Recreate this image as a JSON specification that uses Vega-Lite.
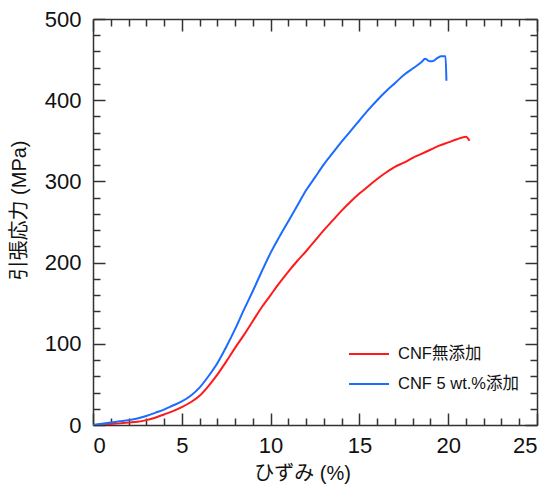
{
  "$schema": "https://vega.github.io/schema/vega-lite/v6.json",
  "width": 444, "height": 406,
  "autosize": "none",
  "padding": {"left": 93, "top": 19, "right": 22, "bottom": 67},
  "background": "white",
  "config": {
    "view": {"stroke": null},
    "axis": {
      "grid": false, "domainColor": "#333", "domainWidth": 1.5,
      "tickColor": "#333", "tickWidth": 1.5,
      "labelFont": "Liberation Sans", "labelFontSize": 22, "labelColor": "#111",
      "titleFont": "'Liberation Sans', 'Noto Sans CJK JP'", "titleFontSize": 20,
      "titleFontWeight": "normal", "titleColor": "#111"
    }
  },
  "data": {"values": [
    {"strain": 0, "stress": 0, "sample": "CNF無添加"},
    {"strain": 0.5, "stress": 0.5, "sample": "CNF無添加"},
    {"strain": 1, "stress": 1.2, "sample": "CNF無添加"},
    {"strain": 1.5, "stress": 2, "sample": "CNF無添加"},
    {"strain": 2, "stress": 3, "sample": "CNF無添加"},
    {"strain": 2.5, "stress": 4, "sample": "CNF無添加"},
    {"strain": 3, "stress": 6, "sample": "CNF無添加"},
    {"strain": 3.5, "stress": 9, "sample": "CNF無添加"},
    {"strain": 4, "stress": 13, "sample": "CNF無添加"},
    {"strain": 4.5, "stress": 17, "sample": "CNF無添加"},
    {"strain": 5, "stress": 22, "sample": "CNF無添加"},
    {"strain": 5.5, "stress": 28, "sample": "CNF無添加"},
    {"strain": 6, "stress": 36, "sample": "CNF無添加"},
    {"strain": 6.5, "stress": 48, "sample": "CNF無添加"},
    {"strain": 7, "stress": 62, "sample": "CNF無添加"},
    {"strain": 7.5, "stress": 78, "sample": "CNF無添加"},
    {"strain": 8, "stress": 95, "sample": "CNF無添加"},
    {"strain": 8.5, "stress": 111, "sample": "CNF無添加"},
    {"strain": 9, "stress": 128, "sample": "CNF無添加"},
    {"strain": 9.5, "stress": 145, "sample": "CNF無添加"},
    {"strain": 10, "stress": 160, "sample": "CNF無添加"},
    {"strain": 10.5, "stress": 175, "sample": "CNF無添加"},
    {"strain": 11, "stress": 189, "sample": "CNF無添加"},
    {"strain": 11.5, "stress": 202, "sample": "CNF無添加"},
    {"strain": 12, "stress": 214, "sample": "CNF無添加"},
    {"strain": 12.5, "stress": 227, "sample": "CNF無添加"},
    {"strain": 13, "stress": 240, "sample": "CNF無添加"},
    {"strain": 13.5, "stress": 252, "sample": "CNF無添加"},
    {"strain": 14, "stress": 264, "sample": "CNF無添加"},
    {"strain": 14.5, "stress": 275, "sample": "CNF無添加"},
    {"strain": 15, "stress": 285, "sample": "CNF無添加"},
    {"strain": 15.5, "stress": 294, "sample": "CNF無添加"},
    {"strain": 16, "stress": 303, "sample": "CNF無添加"},
    {"strain": 16.5, "stress": 311, "sample": "CNF無添加"},
    {"strain": 17, "stress": 318, "sample": "CNF無添加"},
    {"strain": 17.5, "stress": 323, "sample": "CNF無添加"},
    {"strain": 18, "stress": 329, "sample": "CNF無添加"},
    {"strain": 18.5, "stress": 334, "sample": "CNF無添加"},
    {"strain": 19, "stress": 339, "sample": "CNF無添加"},
    {"strain": 19.5, "stress": 344, "sample": "CNF無添加"},
    {"strain": 20, "stress": 348, "sample": "CNF無添加"},
    {"strain": 20.5, "stress": 352, "sample": "CNF無添加"},
    {"strain": 21, "stress": 355, "sample": "CNF無添加"},
    {"strain": 21.2, "stress": 350, "sample": "CNF無添加"},
    {"strain": 0, "stress": 0, "sample": "CNF 5 wt.%添加"},
    {"strain": 0.5, "stress": 1.5, "sample": "CNF 5 wt.%添加"},
    {"strain": 1, "stress": 3, "sample": "CNF 5 wt.%添加"},
    {"strain": 1.5, "stress": 4.5, "sample": "CNF 5 wt.%添加"},
    {"strain": 2, "stress": 6, "sample": "CNF 5 wt.%添加"},
    {"strain": 2.5, "stress": 8, "sample": "CNF 5 wt.%添加"},
    {"strain": 3, "stress": 11, "sample": "CNF 5 wt.%添加"},
    {"strain": 3.5, "stress": 15, "sample": "CNF 5 wt.%添加"},
    {"strain": 4, "stress": 19, "sample": "CNF 5 wt.%添加"},
    {"strain": 4.5, "stress": 24, "sample": "CNF 5 wt.%添加"},
    {"strain": 5, "stress": 29, "sample": "CNF 5 wt.%添加"},
    {"strain": 5.5, "stress": 36, "sample": "CNF 5 wt.%添加"},
    {"strain": 6, "stress": 46, "sample": "CNF 5 wt.%添加"},
    {"strain": 6.5, "stress": 60, "sample": "CNF 5 wt.%添加"},
    {"strain": 7, "stress": 76, "sample": "CNF 5 wt.%添加"},
    {"strain": 7.5, "stress": 96, "sample": "CNF 5 wt.%添加"},
    {"strain": 8, "stress": 118, "sample": "CNF 5 wt.%添加"},
    {"strain": 8.5, "stress": 142, "sample": "CNF 5 wt.%添加"},
    {"strain": 9, "stress": 165, "sample": "CNF 5 wt.%添加"},
    {"strain": 9.5, "stress": 189, "sample": "CNF 5 wt.%添加"},
    {"strain": 10, "stress": 212, "sample": "CNF 5 wt.%添加"},
    {"strain": 10.5, "stress": 232, "sample": "CNF 5 wt.%添加"},
    {"strain": 11, "stress": 251, "sample": "CNF 5 wt.%添加"},
    {"strain": 11.5, "stress": 270, "sample": "CNF 5 wt.%添加"},
    {"strain": 12, "stress": 289, "sample": "CNF 5 wt.%添加"},
    {"strain": 12.5, "stress": 305, "sample": "CNF 5 wt.%添加"},
    {"strain": 13, "stress": 321, "sample": "CNF 5 wt.%添加"},
    {"strain": 13.5, "stress": 335, "sample": "CNF 5 wt.%添加"},
    {"strain": 14, "stress": 349, "sample": "CNF 5 wt.%添加"},
    {"strain": 14.5, "stress": 362, "sample": "CNF 5 wt.%添加"},
    {"strain": 15, "stress": 375, "sample": "CNF 5 wt.%添加"},
    {"strain": 15.5, "stress": 388, "sample": "CNF 5 wt.%添加"},
    {"strain": 16, "stress": 400, "sample": "CNF 5 wt.%添加"},
    {"strain": 16.5, "stress": 411, "sample": "CNF 5 wt.%添加"},
    {"strain": 17, "stress": 421, "sample": "CNF 5 wt.%添加"},
    {"strain": 17.5, "stress": 431, "sample": "CNF 5 wt.%添加"},
    {"strain": 18, "stress": 439, "sample": "CNF 5 wt.%添加"},
    {"strain": 18.5, "stress": 447, "sample": "CNF 5 wt.%添加"},
    {"strain": 18.7, "stress": 451, "sample": "CNF 5 wt.%添加"},
    {"strain": 18.95, "stress": 448, "sample": "CNF 5 wt.%添加"},
    {"strain": 19.1, "stress": 448, "sample": "CNF 5 wt.%添加"},
    {"strain": 19.4, "stress": 452, "sample": "CNF 5 wt.%添加"},
    {"strain": 19.6, "stress": 454, "sample": "CNF 5 wt.%添加"},
    {"strain": 19.85, "stress": 454, "sample": "CNF 5 wt.%添加"},
    {"strain": 19.9, "stress": 424, "sample": "CNF 5 wt.%添加"}
  ]},
  "layer": [
    {
      "mark": {"type": "line", "strokeWidth": 2, "interpolate": "monotone", "clip": true},
      "encoding": {
        "x": {
          "field": "strain", "type": "quantitative",
          "scale": {"domain": [0, 25], "nice": false},
          "axis": {
            "orient": "bottom", "title": "ひずみ (%)",
            "values": [0,1,2,3,4,5,6,7,8,9,10,11,12,13,14,15,16,17,18,19,20,21,22,23,24,25],
            "labelExpr": "datum.value % 5 === 0 ? datum.label : ''",
            "tickSize": {"condition": {"test": "datum.value % 5 === 0", "value": -12}, "value": -7},
            "labelPadding": 22, "titleX": 209, "titleY": 48, "titleBaseline": "middle"
          }
        },
        "y": {
          "field": "stress", "type": "quantitative",
          "scale": {"domain": [0, 500], "nice": false},
          "axis": {
            "orient": "left", "title": "引張応力 (MPa)",
            "values": [0,20,40,60,80,100,120,140,160,180,200,220,240,260,280,300,320,340,360,380,400,420,440,460,480,500],
            "labelExpr": "datum.value % 100 === 0 ? datum.label : ''",
            "tickSize": {"condition": {"test": "datum.value % 100 === 0", "value": -12}, "value": -7},
            "labelPadding": 24, "titleX": -74, "titleY": 191,
            "titleAlign": "center", "titleBaseline": "middle"
          }
        },
        "color": {
          "field": "sample", "type": "nominal",
          "scale": {"domain": ["CNF無添加", "CNF 5 wt.%添加"], "range": ["#ff1a1a", "#1a6cff"]},
          "legend": {
            "title": null, "orient": "none", "legendX": 255, "legendY": 314,
            "symbolType": "stroke", "symbolSize": 1600, "symbolStrokeWidth": 2,
            "labelFont": "'Liberation Sans', 'Noto Sans CJK JP'", "labelFontSize": 16.5,
            "labelColor": "#111", "labelOffset": 8, "rowPadding": -2
          }
        }
      }
    },
    {
      "mark": {"type": "point", "opacity": 0},
      "encoding": {
        "x": {
          "field": "strain", "type": "quantitative",
          "axis": {
            "orient": "top", "title": null, "labels": false,
            "values": [0,1,2,3,4,5,6,7,8,9,10,11,12,13,14,15,16,17,18,19,20,21,22,23,24,25],
            "tickSize": {"condition": {"test": "datum.value % 5 === 0", "value": -12}, "value": -7}
          }
        },
        "y": {
          "field": "stress", "type": "quantitative",
          "axis": {
            "orient": "right", "title": null, "labels": false,
            "values": [0,20,40,60,80,100,120,140,160,180,200,220,240,260,280,300,320,340,360,380,400,420,440,460,480,500],
            "tickSize": {"condition": {"test": "datum.value % 100 === 0", "value": -12}, "value": -7}
          }
        }
      }
    }
  ],
  "resolve": {"axis": {"x": "independent", "y": "independent"}}
}
